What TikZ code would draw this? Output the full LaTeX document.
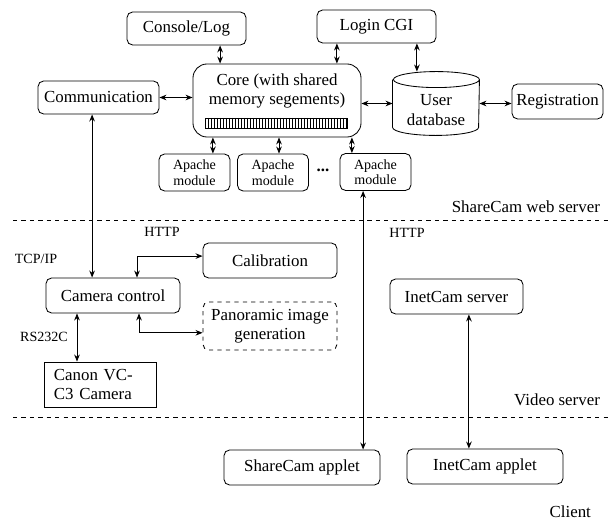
\documentclass[tikz,border=0pt]{standalone}
\usepackage{fontspec}
\setmainfont{Liberation Serif}
\usetikzlibrary{arrows.meta}

\begin{document}
\begin{tikzpicture}[x=0.025cm, y=-0.025cm, line width=0.6pt,
    box/.style={draw, rounded corners=4pt, align=center, inner sep=1pt,
        font=\fontsize{12}{13.5}\selectfont},
    module/.style={draw, rounded corners=4pt, align=center, inner sep=1pt,
        minimum width=1.775cm, minimum height=0.925cm, font=\fontsize{10}{11}\selectfont},
    proto/.style={font=\fontsize{10}{12}\selectfont},
    tier/.style={anchor=east, font=\fontsize{12}{14}\selectfont},
    link/.style={{Stealth[length=5pt,width=4pt]}-{Stealth[length=5pt,width=4pt]}}]
\useasboundingbox (0,0) rectangle (610,523);

% web server
\node[box, minimum width=2.975cm, minimum height=0.825cm] (console) at (186.5,28.5) {Console/Log};
\node[box, minimum width=2.975cm, minimum height=0.825cm] (login) at (376.5,26.5) {Login CGI};
\node[box, rounded corners=10pt, minimum width=4.2cm, minimum height=1.825cm] (core) at (277,100.5) {};
\node[align=center, font=\fontsize{12}{13}\selectfont] (corelbl) at (277,91) {Core (with shared\\memory segements)};
\draw[line width=0.4pt] (205,118) rectangle (347,128);
\foreach \x in {208,211,...,346}
    \draw[line width=0.4pt] (\x,118) -- (\x,128);
\node[box, minimum width=3.025cm, minimum height=0.825cm] (comm) at (98.5,97.5) {Communication};
\node[minimum width=2.15cm, minimum height=1.575cm, inner sep=0pt] (db) at (436,103.5) {};
\draw ([yshift=-0.2cm]db.north west) -- ([yshift=0.2cm]db.south west)
    arc[start angle=180, end angle=360, x radius=1.075cm, y radius=0.2cm]
    -- ([yshift=-0.2cm]db.north east)
    arc[start angle=0, end angle=360, x radius=1.075cm, y radius=0.2cm];
\node[align=center, font=\fontsize{12}{14}\selectfont] (dbtxt) at (436,110) {User\\database};
\node[box, minimum width=2.275cm, minimum height=0.875cm] (reg) at (557.5,101.5) {Registration};
\node[module] (ap1) at (194.5,172.5) {Apache\\module};
\node[module] (ap2) at (273,172.5) {Apache\\module};
\node[module] (ap3) at (375.5,172) {Apache\\module};
\node[font=\fontsize{12}{14}\bfseries] (dots) at (323,170) {...};

% video server
\node[box, minimum width=3.35cm, minimum height=0.875cm] (calib) at (270,260.5) {Calibration};
\node[box, minimum width=3.35cm, minimum height=0.875cm] (cam) at (113,295.5) {Camera control};
\node[box, dashed, minimum width=3.35cm, minimum height=1.2cm] (pano) at (270,326) {Panoramic image\\generation};
\node[draw, align=left, text width=2.3cm, minimum width=2.8cm, minimum height=1.125cm,
    font=\fontsize{12}{14}\selectfont] (canon) at (100,384.5) {Canon VC-\\C3 Camera};
\node[box, minimum width=3.325cm, minimum height=0.875cm] (iserver) at (456.5,296.5) {InetCam server};

% client
\node[box, minimum width=3.9cm, minimum height=0.875cm] (sapplet) at (302,467.5) {ShareCam applet};
\node[box, minimum width=3.9cm, minimum height=0.875cm] (iapplet) at (485,466.5) {InetCam applet};

% tiers
\draw[dashed, line width=0.5pt] (13,220) -- (610,220);
\draw[dashed, line width=0.5pt] (13,417) -- (610,417);
\node[tier] (web) at (605,207) {ShareCam web server};
\node[tier] (video) at (605,400) {Video server};
\node[tier] (client) at (596,512) {Client};
\node[proto] (http1) at (162,232) {HTTP};
\node[proto] (http2) at (407,233) {HTTP};
\node[proto] (tcp) at (36,259) {TCP/IP};
\node[proto] (rs) at (44,337) {RS232C};

% links
\draw[link] ([xshift=0.84cm]console.south) -- ([xshift=0.84cm]console.south |- core.north);
\draw[link] ([xshift=-0.99cm]login.south) -- ([xshift=-0.99cm]login.south |- core.north);
\draw[link] ([xshift=1.01cm]login.south) -- ([xshift=1.01cm]login.south |- db.north);
\draw[link] (comm.east) -- (comm.east -| core.west);
\draw[link] (core.east |- db.west) -- (db.west);
\draw[link] (db.east) -- (db.east -| reg.west);
\draw[link] ([xshift=0.46cm]ap1.north |- core.south) -- ([xshift=0.46cm]ap1.north);
\draw[link] ([xshift=0.15cm]ap2.north |- core.south) -- ([xshift=0.15cm]ap2.north);
\draw[link] ([xshift=-0.59cm]ap3.north |- core.south) -- ([xshift=-0.59cm]ap3.north);
\draw[link] ([xshift=-0.16cm]comm.south) -- ([xshift=-0.16cm]comm.south |- cam.north);
\draw[link] ([xshift=0.6cm]cam.north) |- ([yshift=0.11cm]calib.west);
\draw[link] ([xshift=0.65cm]cam.south) |- ([yshift=-0.17cm]pano.west);
\draw[link] ([xshift=-0.9cm]cam.south) -- ([xshift=-0.9cm]cam.south |- canon.north);
\draw[link] ([xshift=-0.31cm]ap3.south) -- ([xshift=-0.31cm]ap3.south |- sapplet.north);
\draw[link] ([xshift=0.31cm]iserver.south) -- ([xshift=0.31cm]iserver.south |- iapplet.north);
\end{tikzpicture}
\end{document}
